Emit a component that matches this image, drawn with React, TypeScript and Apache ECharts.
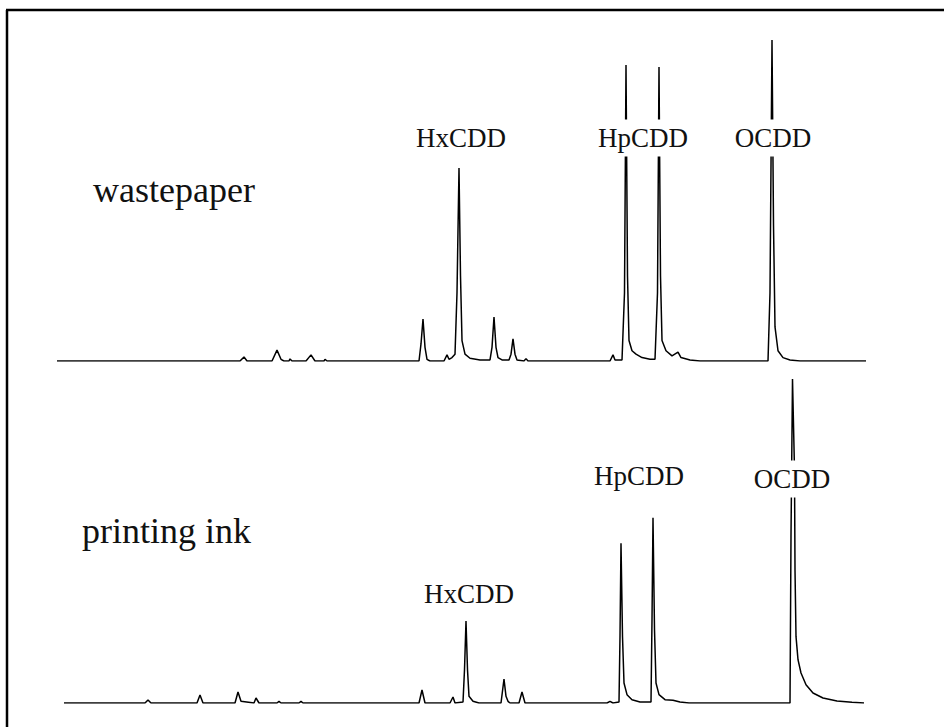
import React, { useEffect, useRef } from "react";
import * as echarts from "echarts";

// Retention position (scan units) and relative intensity (%)
const wastepaperTrace: [number, number][] = [
  [0, 0], [71, 0], [183, 0], [187, 1.2], [190, 0], [215, 0], [220, 3.2], [224, 0.5], [227, 0],
  [232, 0], [233, 0.6], [235, 0], [249, 0], [254, 1.8], [258, 0], [267, 0], [268, 0.5], [270, 0],
  [362, 0], [364, 5], [366, 12.3], [368, 4], [370, 0.5], [373, 0],
  [387, 0], [390, 1.8], [392, 0.5], [395, 1], [398, 2], [400, 20], [402, 56.6], [403.5, 25], [405, 6],
  [408, 2], [413, 0.8], [423, 0.3], [433, 0.3], [435, 4], [437, 12.9], [439, 4], [441, 1], [445, 0.3],
  [452, 0.3], [454, 2], [456, 6.5], [458, 2], [460, 0.3], [467, 0], [469, 0.7], [471, 0],
  [553, 0], [556, 1.8], [558, 0.3], [565, 0.3], [567.5, 20], [569, 86.8], [570.5, 25], [572, 6],
  [575, 3], [579, 2], [585, 1], [593, 0.5], [598, 0.5], [600.5, 20], [602, 86.2], [603.5, 25],
  [605, 6], [609, 3], [615, 1.5], [621, 2.6], [624, 1], [633, 0.3], [643, 0],
  [711, 0], [713, 20], [715, 94.1], [716.5, 40], [718, 10], [721, 3], [726, 1], [733, 0.3], [743, 0],
  [809, 0],
];

const printingInkTrace: [number, number][] = [
  [7, 0], [88, 0], [91, 0.9], [94, 0], [140, 0], [143, 2.4], [146, 0], [178, 0], [181, 3.3],
  [184, 0.5], [197, 0], [199, 1.5], [202, 0], [220, 0], [222, 0.5], [224, 0], [242, 0], [244, 0.5],
  [246, 0], [362, 0], [365, 3.9], [368, 0], [393, 0], [396, 1.8], [398, 0], [406, 0.3], [407.5, 10],
  [409, 24.6], [410.5, 10], [412, 2], [416, 0.5], [422, 0], [444, 0], [447, 7.2], [449, 2],
  [451, 0.5], [453, 0], [462, 0], [465, 3.3], [468, 0], [550, 0], [553, 0.5], [556, 0],
  [562, 0.3], [563, 20], [564, 48], [565.5, 20], [567, 6], [570, 2.5], [575, 1], [583, 0.3],
  [594, 0.3], [595, 25], [596, 55.6], [597.5, 22], [599, 6], [602, 2.5], [608, 1], [616, 0.8],
  [623, 0.3], [632, 0], [733, 0], [734, 50], [735.5, 97.3], [737.5, 70], [738, 40], [739, 20],
  [741, 13], [744, 9], [749, 5.5], [756, 3], [766, 1.5], [780, 0.6], [795, 0.2], [807, 0],
];

const sampleNames = ["wastepaper", "printing ink"];
const peakNames = ["HxCDD", "HpCDD", "OCDD"];

const FONT = "'Liberation Serif', 'Times New Roman', serif";

export default function App() {
  const ref = useRef<HTMLDivElement>(null);
  useEffect(() => {
    if (!ref.current) return;
    const chart = echarts.init(ref.current, null, { renderer: "svg" });

    const peakLabel = (text: string, x: number, y: number) => ({
      type: "text",
      x,
      y,
      z: 100,
      style: {
        text,
        font: `27px ${FONT}`,
        fill: "#111",
        align: "center",
        verticalAlign: "middle",
        backgroundColor: "#fff",
        padding: [5, 3, 5, 3],
      },
    });

    const axisCommon = { show: false, splitLine: { show: false } };

    chart.setOption({
      animation: false,
      backgroundColor: "#fff",
      grid: [
        { left: 57, right: 78, top: 20, bottom: 366 },
        { left: 57, right: 78, top: 370, bottom: 24 },
      ],
      xAxis: [
        { type: "value", gridIndex: 0, min: 0, max: 809, ...axisCommon },
        { type: "value", gridIndex: 1, min: 0, max: 809, ...axisCommon },
      ],
      yAxis: [
        { type: "value", gridIndex: 0, min: 0, max: 100, ...axisCommon },
        { type: "value", gridIndex: 1, min: 0, max: 100, ...axisCommon },
      ],
      series: [
        {
          name: sampleNames[0],
          type: "line",
          xAxisIndex: 0,
          yAxisIndex: 0,
          data: wastepaperTrace,
          showSymbol: false,
          symbol: "none",
          lineStyle: { color: "#000", width: 1.5 },
        },
        {
          name: sampleNames[1],
          type: "line",
          xAxisIndex: 1,
          yAxisIndex: 1,
          data: printingInkTrace,
          showSymbol: false,
          symbol: "none",
          lineStyle: { color: "#000", width: 1.5 },
        },
      ],
      graphic: [
        { type: "line", shape: { x1: 6, y1: 10, x2: 944, y2: 10 }, style: { stroke: "#000", lineWidth: 2.5 } },
        { type: "line", shape: { x1: 7, y1: 10, x2: 7, y2: 727 }, style: { stroke: "#000", lineWidth: 2.5 } },
        {
          type: "text", x: 93, y: 190,
          style: { text: sampleNames[0], font: `36px ${FONT}`, fill: "#111", align: "left", verticalAlign: "middle" },
        },
        {
          type: "text", x: 82, y: 531,
          style: { text: sampleNames[1], font: `36px ${FONT}`, fill: "#111", align: "left", verticalAlign: "middle" },
        },
        peakLabel(peakNames[0], 461, 138),
        peakLabel(peakNames[1], 643, 138),
        peakLabel(peakNames[2], 773, 138),
        peakLabel(peakNames[0], 469, 594),
        peakLabel(peakNames[1], 639, 476),
        peakLabel(peakNames[2], 792, 479),
      ],
    });
    return () => chart.dispose();
  }, []);
  return (
    <div
      ref={ref}
      style={{ position: "fixed", left: 0, top: 0, width: 944, height: 727, background: "#fff" }}
    />
  );
}
